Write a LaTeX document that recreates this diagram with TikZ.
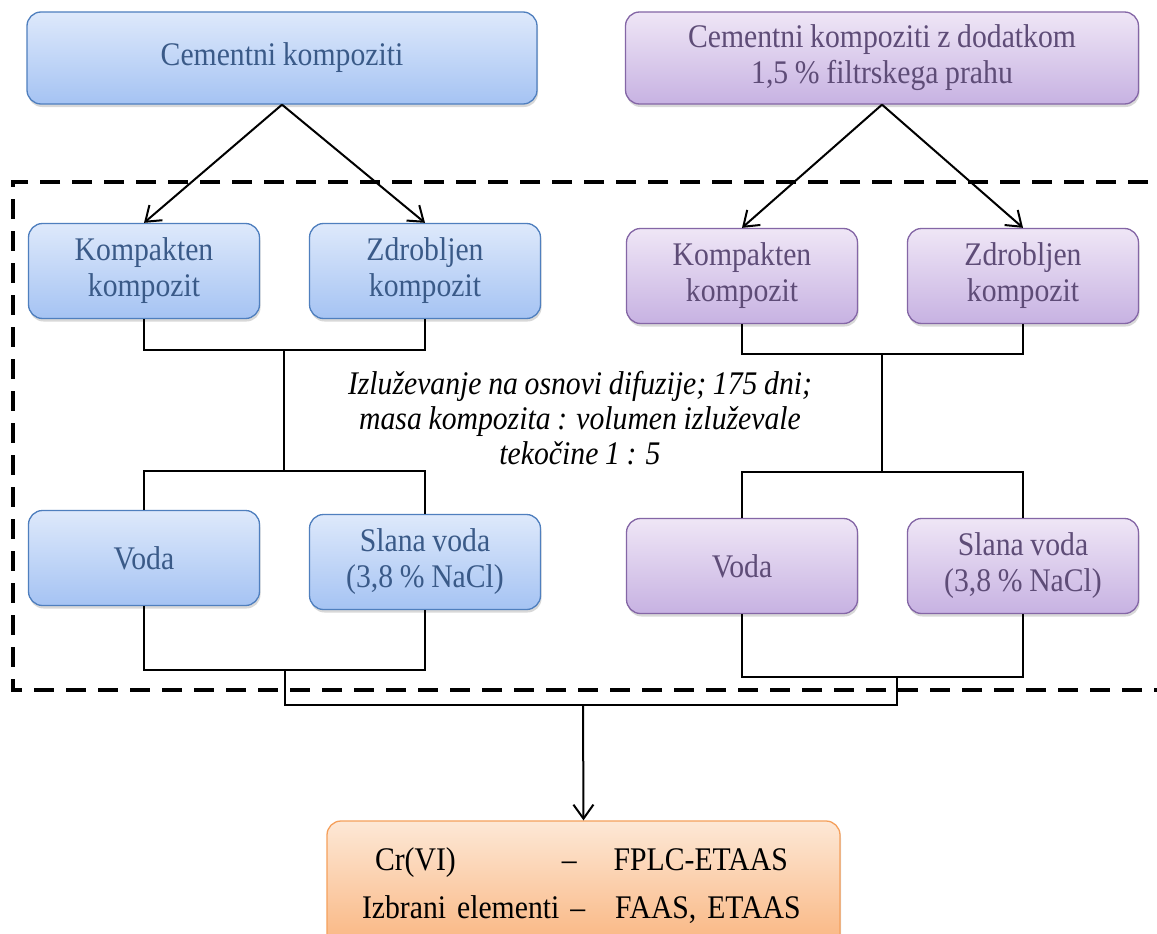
\documentclass[tikz,border=0pt]{standalone}
\usepackage{fontspec}
\setmainfont{Liberation Serif}[FakeStretch=0.9,WordSpace=0.9]
\usetikzlibrary{arrows.meta,shadows}
\definecolor{bluetop}{HTML}{DEE9FB}
\definecolor{bluebot}{HTML}{A5C3F3}
\definecolor{blueline}{HTML}{4F7FBE}
\definecolor{bluetext}{HTML}{3A5A88}
\definecolor{purtop}{HTML}{EFE6F6}
\definecolor{purbot}{HTML}{C7B2E2}
\definecolor{purline}{HTML}{8466A6}
\definecolor{purtext}{HTML}{5E4C77}
\definecolor{ortop}{HTML}{FDE8D6}
\definecolor{orbot}{HTML}{F9B47E}
\definecolor{orline}{HTML}{F5A05C}
\begin{document}
\begin{tikzpicture}[x=1pt,y=-1pt,
  box/.style={rectangle, rounded corners=14pt, line width=1.3pt, minimum width=231pt,
    minimum height=95pt, inner sep=0pt, align=center, font=\fontsize{33}{36}\selectfont,
    drop shadow={shadow xshift=1pt,shadow yshift=-3pt,opacity=0.3}},
  bluebox/.style={box, draw=blueline, top color=bluetop, bottom color=bluebot, text=bluetext},
  purbox/.style={box, draw=purline, top color=purtop, bottom color=purbot, text=purtext},
  orbox/.style={box, draw=orline, top color=ortop, bottom color=orbot, text=black,
    minimum width=513pt, text width=513pt, minimum height=130pt, align=left,
    font=\fontsize{33}{48}\selectfont},
  conn/.style={line width=2pt, black},
  arr/.style={conn, -{Straight Barb[length=14pt,width=20pt,line width=2pt]}},
  frame/.style={line width=3.5pt, dash pattern=on 20pt off 12pt, black}
]
\useasboundingbox (0,0) rectangle (1157,934);
\clip (0,0) rectangle (1157,934);
\fill[white] (0,0) rectangle (1157,934);

% dashed frame
\draw[frame] (1180,182) -- (13,182) -- (13,690) -- (1180,690);

% top boxes
\node[bluebox, minimum width=510pt, minimum height=92pt] (lt) at (282,58) {Cementni kompoziti};
\node[purbox, minimum width=513pt, minimum height=92pt] (rt) at (882,58) {Cementni kompoziti z dodatkom\\1,5 \% filtrskega prahu};

% second row
\node[bluebox] (lk) at (144,271) {Kompakten\\kompozit};
\node[bluebox] (lz) at (425,271) {Zdrobljen\\kompozit};
\node[purbox] (rk) at (742,276) {Kompakten\\kompozit};
\node[purbox] (rz) at (1023,276) {Zdrobljen\\kompozit};

% third row
\node[bluebox] (lv) at (144,558) {Voda};
\node[bluebox] (ls) at (425,562) {Slana voda\\(3,8 \% NaCl)};
\node[purbox] (rv) at (742,566) {Voda};
\node[purbox] (rs) at (1023,566) {Slana voda\\(3,8 \% NaCl)};

% result box
\node[orbox] (res) at (583.5,886) {\hspace*{48pt}Cr(VI)\hspace*{106pt}–\hspace*{37pt}FPLC-ETAAS\\
\hspace*{35pt}Izbrani elementi –\hspace*{30pt}FAAS, ETAAS};

% middle italic text
\node[align=center, font=\fontsize{33}{35}\selectfont\itshape, inner sep=0pt] (note) at (580,418)
  {Izluževanje na osnovi difuzije; 175 dni;\\masa kompozita : volumen izluževale\\tekočine 1 : 5};

% arrows from top boxes
\draw[arr] (lt.south) -- (lk.north);
\draw[arr] (lt.south) -- (lz.north);
\draw[arr] (rt.south) -- (rk.north);
\draw[arr] (rt.south) -- (rz.north);

% left brackets
\coordinate (lj1) at (284,350);
\coordinate (lj2) at (284,471);
\coordinate (lj3) at (285,670);
\draw[conn] (lk.south) |- (lj1) -| (lz.south);
\draw[conn] (lj1) -- (lj2);
\draw[conn] (lv.north) |- (lj2) -| (ls.north);
\draw[conn] (lv.south) |- (lj3) -| (ls.south);

% right brackets
\coordinate (rj1) at (882,354);
\coordinate (rj2) at (882,472);
\coordinate (rj3) at (897,677);
\draw[conn] (rk.south) |- (rj1) -| (rz.south);
\draw[conn] (rj1) -- (rj2);
\draw[conn] (rv.north) |- (rj2) -| (rs.north);
\draw[conn] (rv.south) |- (rj3) -| (rs.south);

% merge
\coordinate (m) at (583,705);
\draw[conn] (lj3) |- (m) -| (rj3);
\draw[arr] (m) -- (res.north);
\end{tikzpicture}
\end{document}
